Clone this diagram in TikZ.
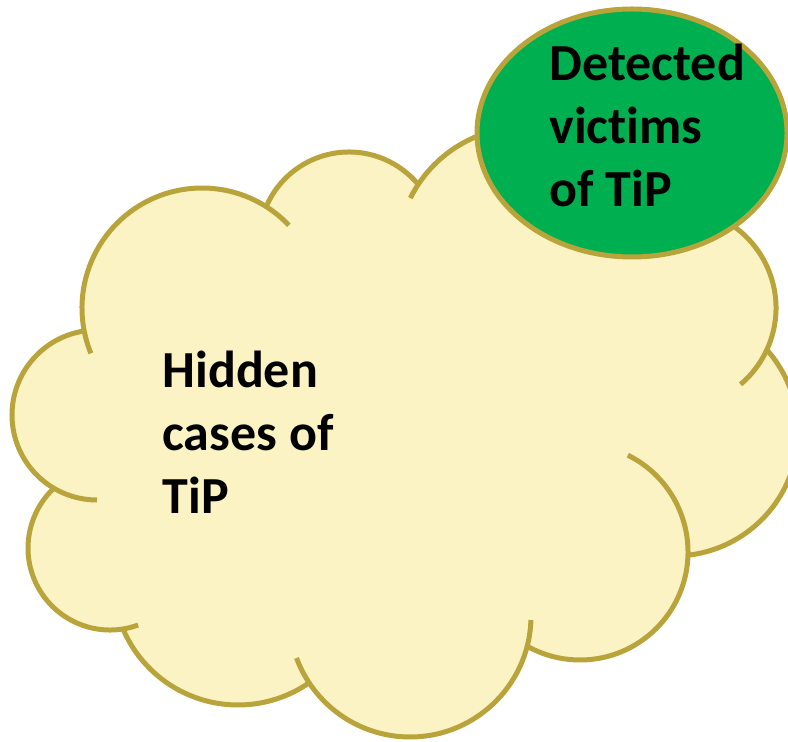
\documentclass[tikz,border=0pt]{standalone}
\usepackage{fontspec}
\setmainfont{Carlito}[Ligatures=NoCommon]
\usepackage{tikz}
\usetikzlibrary{shapes.geometric}
\definecolor{cloudfill}{HTML}{FCF3C5}
\definecolor{cloudedge}{HTML}{B9A43C}
\definecolor{victimgreen}{HTML}{00B050}
\tikzset{every path/.append style={line width=0.5mm}}
\tikzset{
	puff/.style={draw=cloudedge},
	cloudbody/.style={fill=cloudfill},
	victims/.style={ellipse,draw=cloudedge,fill=victimgreen,minimum width=31mm,minimum height=24.8mm,inner sep=0},
	tiptext/.style={font=\bfseries\fontsize{14.8pt}{17.9pt}\selectfont,align=left,inner sep=0,anchor=north west}
}
\newcommand{\tikzPuff}[4]{\draw[puff] ([shift={(#1)}]#2:#4) arc[start angle=#2,end angle=#3,radius=#4];}

\begin{document}
\begin{tikzpicture}[x=0.1mm,y=-0.1mm]
	\useasboundingbox (0,0) rectangle (788,742);
	
	\coordinate (cL) at (97,415);
	\coordinate (cUL) at (202,308);
	\coordinate (cT) at (349,242);
	\coordinate (cTR) at (525,255);
	\coordinate (cRa) at (676,308);
	\coordinate (cRb) at (674,432);
	\coordinate (cLR) at (580,552);
	\coordinate (cB) at (410,616);
	\coordinate (cBL) at (238,580);
	\coordinate (cLL) at (110,548);
	
	\fill[cloudbody] ([shift={(cL)}]120.5:85) arc[start angle=120.5,end angle=261.3,radius=85]
		-- ([shift={(cUL)}]168.95:120) arc[start angle=168.95,end angle=302.3,radius=120]
		-- ([shift={(cT)}]203.15:90) arc[start angle=203.15,end angle=320.3,radius=90]
		-- ([shift={(cTR)}]213.4:128) arc[start angle=213.4,end angle=280,radius=128]
		-- ([shift={(cRa)}]280:100) arc[start angle=280,end angle=384.7,radius=100]
		-- ([shift={(cRb)}]-41.5:124) arc[start angle=-41.5,end angle=83.5,radius=124]
		-- ([shift={(cLR)}]1.75:108) arc[start angle=1.75,end angle=119.2,radius=108]
		-- ([shift={(cB)}]14.5:121) arc[start angle=14.5,end angle=146.45,radius=121]
		-- ([shift={(cBL)}]55.35:125) arc[start angle=55.35,end angle=156.9,radius=125]
		-- ([shift={(cLL)}]80.9:82) arc[start angle=80.9,end angle=226.7,radius=82]
		-- cycle;
	
	\tikzPuff{cL}{90}{261.3}{85}
	\tikzPuff{cUL}{157.8}{316.4}{120}
	\tikzPuff{cT}{203.15}{320.3}{90}
	\tikzPuff{cTR}{206.4}{280}{128}
	\tikzPuff{cRa}{280}{409.8}{100}
	\tikzPuff{cRb}{-41.5}{83.5}{124}
	\tikzPuff{cLR}{-63.7}{119.2}{108}
	\tikzPuff{cB}{1.9}{159.7}{121}
	\tikzPuff{cBL}{55.35}{156.9}{125}
	\tikzPuff{cLL}{69.95}{226.7}{82}
	
	\node[victims] (detected) at (632,133) {};
	\node[tiptext] (detectedtext) at (547,42) {Detected\\victims\\of TiP};
	\node[tiptext] (hidden) at (160,349) {Hidden\\cases of\\TiP};
\end{tikzpicture}
\end{document}
